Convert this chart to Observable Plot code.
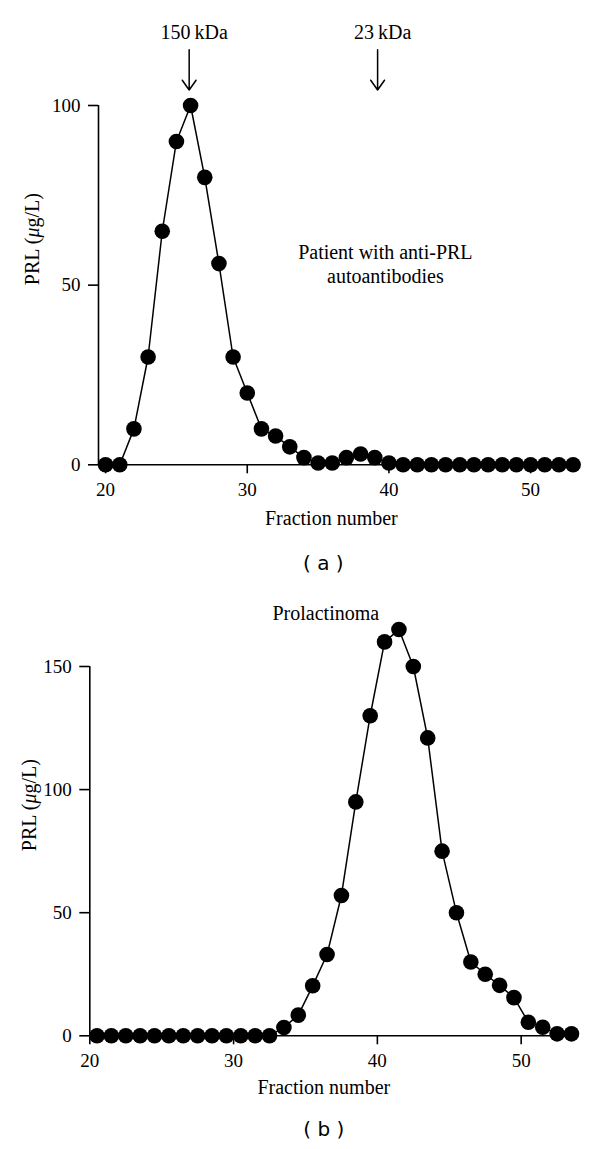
<!DOCTYPE html>
<html>
<head>
<meta charset="utf-8">
<script src="https://cdn.jsdelivr.net/npm/d3@7"></script>
<script src="https://cdn.jsdelivr.net/npm/@observablehq/plot@0.6"></script>
<style>
  body { margin: 0; background: #fff; }
  #chart svg { display: block; }
</style>
</head>
<body>
<div id="chart"></div>
<script>
// Panel (a): patient with anti-PRL autoantibodies
const fractionsA = [20,21,22,23,24,25,26,27,28,29,30,31,32,33,34,35,36,37,38,39,40,41,42,43,44,45,46,47,48,49,50,51,52,53];
const prlA = [0,0,10,30,65,90,100,80,56,30,20,10,8,5,2,0.5,0.5,2,3,2,0.5,0,0,0,0,0,0,0,0,0,0,0,0,0];
const xTicksA = [20,30,40,50];
const yTicksA = [0,50,100];
const markerFractions = [25.9, 39.2];
const markerLabels = ["150\u2009kDa", "23\u2009kDa"];

// Panel (b): prolactinoma
const fractionsB = [20.5,21.5,22.5,23.5,24.5,25.5,26.5,27.5,28.5,29.5,30.5,31.5,32.5,33.5,34.5,35.5,36.5,37.5,38.5,39.5,40.5,41.5,42.5,43.5,44.5,45.5,46.5,47.5,48.5,49.5,50.5,51.5,52.5,53.5];
const prlB = [0,0,0,0,0,0,0,0,0,0,0,0,0,3.4,8.4,20.3,33,57,95,130,160,165,150,121,75,50,30,25,20.5,15.5,5.5,3.5,0.8,0.8];
const xTicksB = [20,30,40,50];
const yTicksB = [0,50,100,150];

const yLabel = "PRL (\u03bcg/L)";
const xLabel = "Fraction number";
const noteA = "Patient with anti-PRL\nautoantibodies";
const noteB = "Prolactinoma";

const serif = "Liberation Serif, Times New Roman, serif";
const dataA = fractionsA.map((f, i) => ({fraction: f, prl: prlA[i]}));
const dataB = fractionsB.map((f, i) => ({fraction: f, prl: prlB[i]}));
const markers = markerFractions.map((f, i) => ({fraction: f, label: markerLabels[i]}));

function panel({data, xDomain, yDomain, xTicks, yTicks, width, height, margins, extra, caption, capDx, capDy, xlabDx, xlabDy, ylabDx}) {
  return Plot.plot({
    width, height,
    marginLeft: margins[0], marginRight: margins[1], marginTop: margins[2], marginBottom: margins[3],
    style: {fontFamily: serif, fontSize: "19px", color: "#000", background: "#fff", overflow: "visible"},
    x: {domain: xDomain},
    y: {domain: yDomain},
    marks: [
      Plot.axisX({ticks: xTicks, tickSize: 9, tickPadding: 9, label: null, fontSize: 19, strokeWidth: 1.6}),
      Plot.axisY({ticks: yTicks, tickSize: 10, tickPadding: 8, label: null, fontSize: 19, strokeWidth: 1.6}),
      Plot.ruleX([xDomain[0]], {y1: yDomain[0], y2: yDomain[1], stroke: "#000", strokeWidth: 1.6}),
      Plot.ruleY([yDomain[0]], {stroke: "#000", strokeWidth: 1.6}),
      Plot.line(data, {x: "fraction", y: "prl", stroke: "#000", strokeWidth: 1.5}),
      Plot.dot(data, {x: "fraction", y: "prl", r: 7.8, fill: "#000", stroke: "none"}),
      Plot.text([xLabel], {frameAnchor: "bottom", dx: xlabDx, dy: xlabDy, fontSize: 20, fontFamily: serif}),
      Plot.text([yLabel], {frameAnchor: "left", rotate: -90, dx: ylabDx, fontSize: 20, fontFamily: serif}),
      Plot.text([caption], {frameAnchor: "bottom", dx: capDx, dy: capDy, fontSize: 20, fontFamily: "DejaVu Sans, sans-serif"}),
      ...extra
    ]
  });
}

const plotA = panel({
  data: dataA, xDomain: [19.5, 53.5], yDomain: [0, 100], xTicks: xTicksA, yTicks: yTicksA,
  width: 600, height: 590, margins: [98, 20.3, 105, 125.7],
  caption: "( a )", capDx: -16, capDy: 105, xlabDx: -8, xlabDy: 60, ylabDx: -66,
  extra: [
    Plot.arrow(markers, {x: "fraction", y1: 115.5, y2: 104.3, stroke: "#000", strokeWidth: 1.5, headLength: 12, headAngle: 70}),
    Plot.text(markers, {x: "fraction", y: 115.5, text: "label", dx: 5, dy: -17, fontSize: 20, fontFamily: serif}),
    Plot.text([noteA], {frameAnchor: "top", dx: 46, dy: 136, fontSize: 20, lineHeight: 1.22, fontFamily: serif})
  ]
});

const plotB = panel({
  data: dataB, xDomain: [20, 53.8], yDomain: [0, 150], xTicks: xTicksB, yTicks: yTicksB,
  width: 600, height: 559, margins: [89.3, 24.7, 76, 113.7],
  caption: "( b )", capDx: -9, capDy: 100, xlabDx: -9, xlabDy: 58, ylabDx: -60,
  extra: [
    Plot.text([noteB], {frameAnchor: "top", dx: -7, dy: -61, fontSize: 20, fontFamily: serif})
  ]
});

const chart = document.getElementById("chart");
chart.append(plotA, plotB);

// Italicise the mu in the y-axis labels
chart.querySelectorAll("text").forEach(t => {
  if (t.textContent === yLabel) {
    const parts = yLabel.split("\u03bc");
    const ns = "http://www.w3.org/2000/svg";
    const keep = t.querySelector("tspan");
    const target = keep || t;
    target.textContent = "";
    const a = document.createElementNS(ns, "tspan"); a.textContent = parts[0];
    const m = document.createElementNS(ns, "tspan"); m.textContent = "\u03bc"; m.setAttribute("font-style", "italic");
    const b = document.createElementNS(ns, "tspan"); b.textContent = parts[1];
    target.append(a, m, b);
  }
});
</script>
</body>
</html>
